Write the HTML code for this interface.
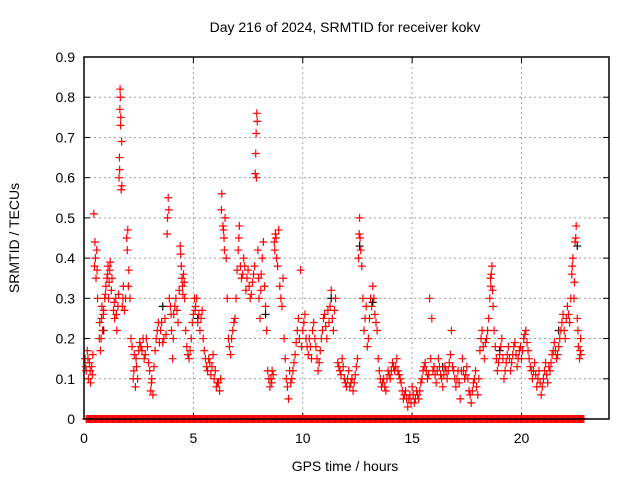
<!DOCTYPE html>
<html><head><meta charset="utf-8"><style>
body{margin:0;background:#fff}
svg{display:block;font-family:"Liberation Sans",sans-serif}
</style></head><body>
<svg id="chart" width="640" height="480" viewBox="0 0 640 480">
<rect width="640" height="480" fill="#fff"/>
<text x="345" y="32" font-size="14" text-anchor="middle">Day 216 of 2024, SRMTID for receiver kokv</text>
<text transform="translate(19,238) rotate(-90)" font-size="14" text-anchor="middle">SRMTID / TECUs</text>
<text x="345" y="471" font-size="14" text-anchor="middle">GPS time / hours</text>
<g id="grid"></g><g id="ticks"></g><g id="marks"></g>
<rect x="84" y="57" width="525" height="362" fill="none" stroke="#000" stroke-width="1.5"/>
</svg>
<script>
const xTicks=[0,5,10,15,20];
const yTicks=[0,0.1,0.2,0.3,0.4,0.5,0.6,0.7,0.8,0.9];
const yTickLabels=["0","0.1","0.2","0.3","0.4","0.5","0.6","0.7","0.8","0.9"];
const redPoints=[[0.05,0.15],[0.1,0.12],[0.15,0.17],[0.2,0.1],[0.25,0.14],[0.3,0.09],[0.35,0.13],[0.4,0.16],[0.45,0.51],[0.48,0.38],[0.5,0.44],[0.55,0.35],[0.58,0.42],[0.62,0.3],[0.7,0.2],[0.75,0.17],[0.8,0.25],[0.85,0.22],[0.9,0.27],[0.95,0.3],[1.0,0.33],[1.05,0.35],[1.1,0.38],[1.15,0.34],[1.2,0.39],[1.25,0.32],[1.35,0.27],[1.4,0.25],[1.45,0.3],[1.5,0.22],[1.55,0.28],[1.6,0.6],[1.62,0.65],[1.64,0.77],[1.65,0.82],[1.67,0.73],[1.7,0.57],[1.72,0.69],[1.75,0.28],[1.8,0.33],[1.9,0.3],[1.95,0.45],[2.0,0.47],[2.05,0.37],[2.1,0.3],[2.2,0.18],[2.25,0.1],[2.3,0.16],[2.35,0.08],[2.4,0.13],[2.5,0.17],[2.6,0.18],[2.7,0.2],[2.8,0.16],[2.9,0.18],[3.0,0.12],[3.05,0.07],[3.1,0.1],[3.15,0.06],[3.2,0.13],[3.3,0.2],[3.4,0.24],[3.5,0.22],[3.6,0.19],[3.7,0.25],[3.75,0.21],[3.82,0.5],[3.85,0.55],[3.88,0.52],[3.95,0.28],[4.0,0.22],[4.05,0.15],[4.1,0.26],[4.2,0.3],[4.3,0.24],[4.4,0.43],[4.45,0.38],[4.5,0.33],[4.55,0.36],[4.6,0.3],[4.7,0.18],[4.8,0.15],[4.9,0.2],[5.0,0.26],[5.05,0.3],[5.1,0.28],[5.2,0.24],[5.3,0.22],[5.4,0.27],[5.5,0.17],[5.6,0.13],[5.7,0.15],[5.8,0.11],[5.9,0.16],[6.0,0.12],[6.1,0.09],[6.2,0.07],[6.25,0.1],[6.3,0.56],[6.35,0.48],[6.4,0.45],[6.45,0.5],[6.5,0.4],[6.6,0.2],[6.7,0.16],[6.8,0.22],[6.9,0.25],[7.0,0.37],[7.05,0.42],[7.1,0.48],[7.2,0.35],[7.3,0.4],[7.4,0.32],[7.5,0.37],[7.6,0.3],[7.7,0.34],[7.8,0.38],[7.83,0.61],[7.85,0.66],[7.87,0.71],[7.9,0.76],[7.95,0.42],[8.0,0.3],[8.05,0.25],[8.1,0.36],[8.2,0.44],[8.3,0.28],[8.4,0.12],[8.5,0.08],[8.55,0.1],[8.6,0.12],[8.7,0.44],[8.75,0.46],[8.8,0.4],[8.9,0.47],[9.0,0.3],[9.1,0.35],[9.2,0.15],[9.3,0.08],[9.35,0.05],[9.4,0.12],[9.5,0.1],[9.6,0.14],[9.7,0.19],[9.8,0.25],[9.9,0.37],[10.0,0.22],[10.1,0.26],[10.2,0.18],[10.3,0.2],[10.4,0.15],[10.5,0.24],[10.6,0.18],[10.7,0.12],[10.8,0.17],[10.9,0.22],[11.0,0.26],[11.1,0.2],[11.2,0.24],[11.3,0.32],[11.4,0.22],[11.5,0.3],[11.6,0.14],[11.7,0.12],[11.8,0.15],[11.9,0.1],[12.0,0.08],[12.1,0.12],[12.2,0.09],[12.3,0.07],[12.4,0.11],[12.5,0.15],[12.55,0.4],[12.6,0.5],[12.62,0.45],[12.7,0.38],[12.8,0.22],[12.9,0.28],[13.0,0.2],[13.1,0.3],[13.2,0.33],[13.3,0.26],[13.4,0.22],[13.5,0.12],[13.6,0.08],[13.7,0.1],[13.8,0.07],[13.9,0.12],[14.0,0.1],[14.1,0.14],[14.2,0.12],[14.3,0.15],[14.4,0.11],[14.5,0.09],[14.6,0.05],[14.7,0.07],[14.8,0.03],[14.9,0.06],[15.0,0.08],[15.1,0.04],[15.2,0.07],[15.3,0.05],[15.4,0.09],[15.5,0.12],[15.6,0.14],[15.7,0.1],[15.8,0.3],[15.9,0.25],[16.0,0.13],[16.1,0.09],[16.2,0.15],[16.3,0.11],[16.4,0.08],[16.5,0.13],[16.6,0.1],[16.7,0.14],[16.8,0.22],[16.9,0.12],[17.0,0.08],[17.1,0.12],[17.2,0.05],[17.3,0.15],[17.4,0.1],[17.5,0.13],[17.6,0.07],[17.7,0.04],[17.8,0.09],[17.9,0.12],[18.0,0.06],[18.1,0.17],[18.2,0.22],[18.3,0.15],[18.4,0.2],[18.5,0.25],[18.55,0.3],[18.6,0.33],[18.65,0.38],[18.7,0.28],[18.8,0.18],[18.9,0.12],[19.0,0.16],[19.1,0.2],[19.2,0.1],[19.3,0.14],[19.4,0.18],[19.5,0.12],[19.6,0.16],[19.7,0.19],[19.8,0.13],[19.9,0.17],[20.0,0.15],[20.1,0.2],[20.2,0.22],[20.3,0.17],[20.4,0.13],[20.5,0.1],[20.6,0.14],[20.7,0.08],[20.8,0.12],[20.9,0.06],[21.0,0.1],[21.1,0.14],[21.2,0.09],[21.3,0.12],[21.4,0.16],[21.5,0.19],[21.6,0.15],[21.7,0.18],[21.8,0.22],[21.9,0.26],[22.0,0.2],[22.1,0.28],[22.2,0.24],[22.3,0.36],[22.35,0.4],[22.4,0.3],[22.45,0.44],[22.5,0.48],[22.55,0.25],[22.6,0.18],[22.65,0.15],[22.7,0.2]];
const extraPoints=[[0.08,0.13],[0.18,0.15],[0.28,0.12],[0.38,0.11],[0.52,0.4],[0.6,0.37],[0.72,0.24],[0.78,0.2],[0.82,0.28],[0.88,0.26],[0.98,0.31],[1.08,0.36],[1.12,0.3],[1.18,0.37],[1.28,0.35],[1.38,0.29],[1.48,0.26],[1.58,0.31],[1.63,0.62],[1.66,0.8],[1.68,0.75],[1.73,0.58],[1.78,0.3],[1.85,0.27],[1.98,0.42],[2.03,0.33],[2.15,0.2],[2.28,0.12],[2.38,0.15],[2.45,0.1],[2.55,0.19],[2.65,0.17],[2.75,0.15],[2.85,0.2],[2.95,0.14],[3.08,0.09],[3.25,0.17],[3.35,0.22],[3.45,0.19],[3.55,0.24],[3.65,0.2],[3.8,0.46],[3.9,0.3],[3.98,0.26],[4.08,0.2],[4.15,0.28],[4.25,0.27],[4.35,0.32],[4.42,0.41],[4.48,0.35],[4.52,0.31],[4.58,0.34],[4.65,0.22],[4.75,0.16],[4.85,0.17],[4.95,0.24],[5.08,0.27],[5.15,0.3],[5.25,0.26],[5.35,0.25],[5.45,0.2],[5.55,0.15],[5.65,0.12],[5.75,0.14],[5.85,0.13],[5.95,0.1],[6.05,0.08],[6.15,0.09],[6.28,0.52],[6.38,0.47],[6.42,0.42],[6.55,0.3],[6.65,0.18],[6.75,0.2],[6.85,0.24],[6.95,0.3],[7.08,0.45],[7.15,0.38],[7.25,0.36],[7.35,0.38],[7.45,0.35],[7.55,0.33],[7.65,0.31],[7.75,0.36],[7.88,0.6],[7.92,0.74],[7.98,0.35],[8.08,0.32],[8.15,0.4],[8.25,0.33],[8.35,0.22],[8.45,0.1],[8.58,0.09],[8.65,0.11],[8.72,0.42],[8.78,0.45],[8.85,0.38],[8.95,0.33],[9.05,0.28],[9.15,0.2],[9.25,0.1],[9.45,0.09],[9.55,0.12],[9.65,0.16],[9.75,0.22],[9.85,0.2],[9.95,0.18],[10.05,0.24],[10.15,0.2],[10.25,0.16],[10.35,0.18],[10.45,0.22],[10.55,0.2],[10.65,0.15],[10.75,0.14],[10.85,0.2],[10.95,0.25],[11.05,0.23],[11.15,0.27],[11.25,0.28],[11.35,0.25],[11.45,0.27],[11.65,0.13],[11.75,0.11],[11.85,0.13],[11.95,0.09],[12.05,0.1],[12.15,0.08],[12.25,0.1],[12.35,0.09],[12.45,0.13],[12.58,0.46],[12.65,0.42],[12.75,0.3],[12.85,0.25],[12.95,0.18],[13.05,0.25],[13.15,0.28],[13.25,0.3],[13.35,0.24],[13.45,0.15],[13.55,0.1],[13.65,0.09],[13.75,0.08],[13.85,0.1],[13.95,0.11],[14.05,0.12],[14.15,0.13],[14.25,0.13],[14.35,0.12],[14.45,0.1],[14.55,0.07],[14.65,0.06],[14.75,0.05],[14.85,0.05],[14.95,0.04],[15.05,0.06],[15.15,0.05],[15.25,0.06],[15.35,0.07],[15.45,0.1],[15.55,0.13],[15.65,0.12],[15.75,0.11],[15.85,0.15],[15.95,0.12],[16.05,0.11],[16.15,0.12],[16.25,0.13],[16.35,0.1],[16.45,0.11],[16.55,0.12],[16.65,0.12],[16.75,0.16],[16.85,0.13],[16.95,0.1],[17.05,0.1],[17.15,0.09],[17.25,0.12],[17.35,0.12],[17.45,0.11],[17.55,0.1],[17.65,0.06],[17.75,0.07],[17.85,0.1],[17.95,0.08],[18.05,0.1],[18.15,0.2],[18.25,0.18],[18.35,0.19],[18.45,0.22],[18.58,0.35],[18.62,0.36],[18.68,0.32],[18.75,0.22],[18.85,0.15],[18.95,0.14],[19.05,0.18],[19.15,0.15],[19.25,0.12],[19.35,0.16],[19.45,0.15],[19.55,0.14],[19.65,0.18],[19.75,0.16],[19.85,0.15],[19.95,0.18],[20.05,0.17],[20.15,0.21],[20.25,0.19],[20.35,0.15],[20.45,0.12],[20.55,0.12],[20.65,0.11],[20.75,0.1],[20.85,0.09],[20.95,0.08],[21.05,0.12],[21.15,0.11],[21.25,0.13],[21.35,0.14],[21.45,0.17],[21.55,0.17],[21.65,0.16],[21.75,0.2],[21.85,0.24],[21.95,0.22],[22.05,0.25],[22.15,0.26],[22.25,0.3],[22.32,0.38],[22.42,0.34],[22.48,0.45],[22.58,0.22],[22.68,0.17],[22.72,0.16]];
const blackPoints=[[0.9,0.22],[3.6,0.28],[5.2,0.25],[8.3,0.26],[11.3,0.3],[12.6,0.43],[13.2,0.29],[16.4,0.13],[19.0,0.17],[21.7,0.22],[22.55,0.43]];
const zeroTimes=[0.1,0.3,0.5,0.7,0.9,1.1,1.3,1.5,1.7,1.9,2.1,2.3,2.5,2.7,2.9,3.1,3.3,3.5,3.7,3.9,4.1,4.3,4.5,4.7,4.9,5.1,5.3,5.5,5.7,5.9,6.1,6.3,6.5,6.7,6.9,7.1,7.3,7.5,7.7,7.9,8.1,8.3,8.5,8.7,8.9,9.1,9.3,9.5,9.7,9.9,10.1,10.3,10.5,10.7,10.9,11.1,11.3,11.5,11.7,11.9,12.1,12.3,12.5,12.7,12.9,13.1,13.3,13.5,13.7,13.9,14.1,14.3,14.5,14.7,14.9,15.1,15.3,15.5,15.7,15.9,16.1,16.3,16.5,16.7,16.9,17.1,17.3,17.5,17.7,17.9,18.1,18.3,18.5,18.7,18.9,19.1,19.3,19.5,19.7,19.9,20.1,20.3,20.5,20.7,20.9,21.1,21.3,21.5,21.7,21.9,22.1,22.3,22.5,22.7];
const X0=84,X1=609,Y0=419,Y1=57,XMAX=24,YMAX=0.9;
function sx(h){return X0+(X1-X0)*h/XMAX;}
function sy(v){return Y0-(Y0-Y1)*v/YMAX;}
const NS="http://www.w3.org/2000/svg";
function mk(tag,attrs,parent){const e=document.createElementNS(NS,tag);for(const k in attrs)e.setAttribute(k,attrs[k]);parent.appendChild(e);return e;}
const grid=document.getElementById('grid'),ticks=document.getElementById('ticks'),marks=document.getElementById('marks');
yTicks.forEach((v,i)=>{const y=sy(v);
 if(i>0&&i<yTicks.length-1){const g=mk('line',{x1:X0,x2:X1,y1:y,y2:y,stroke:'#a0a0a0','stroke-dasharray':'2,3'},grid);
 
 }
 mk('line',{x1:X0,x2:X0+6,y1:y,y2:y,stroke:'#000'},ticks);mk('line',{x1:X1,x2:X1-6,y1:y,y2:y,stroke:'#000'},ticks);
 const t=mk('text',{x:X0-9,y:y+5,'font-size':'14','text-anchor':'end'},ticks);t.textContent=yTickLabels[i];
 
 });
xTicks.forEach(h=>{const x=sx(h);
 if(h>0){const g=mk('line',{x1:x,x2:x,y1:Y0,y2:Y1,stroke:'#a0a0a0','stroke-dasharray':'2,3'},grid);
 
 }
 mk('line',{x1:x,x2:x,y1:Y0,y2:Y0-6,stroke:'#000'},ticks);mk('line',{x1:x,x2:x,y1:Y1,y2:Y1+6,stroke:'#000'},ticks);
 const t=mk('text',{x:x,y:Y0+24,'font-size':'14','text-anchor':'middle'},ticks);t.textContent=String(h);
 
 });
function plus(h,v,col,name){const x=sx(h),y=sy(v);
 const p=mk('path',{d:`M${x-4},${y}H${x+4}M${x},${y-4}V${y+4}`,stroke:col,'stroke-width':'1.2',fill:'none'},marks);
 
 }
blackPoints.forEach(p=>plus(p[0],p[1],'#000','black-point'));
redPoints.forEach(p=>plus(p[0],p[1],'#ff0000','srmtid-point'));
extraPoints.forEach(p=>plus(p[0],p[1],'#ff0000','srmtid-point'));
zeroTimes.forEach(h=>{[0,0.05,0.1,0.15].forEach(d=>plus(h+d,0,'#ff0000','zero-point'));});
</script>
</body></html>
